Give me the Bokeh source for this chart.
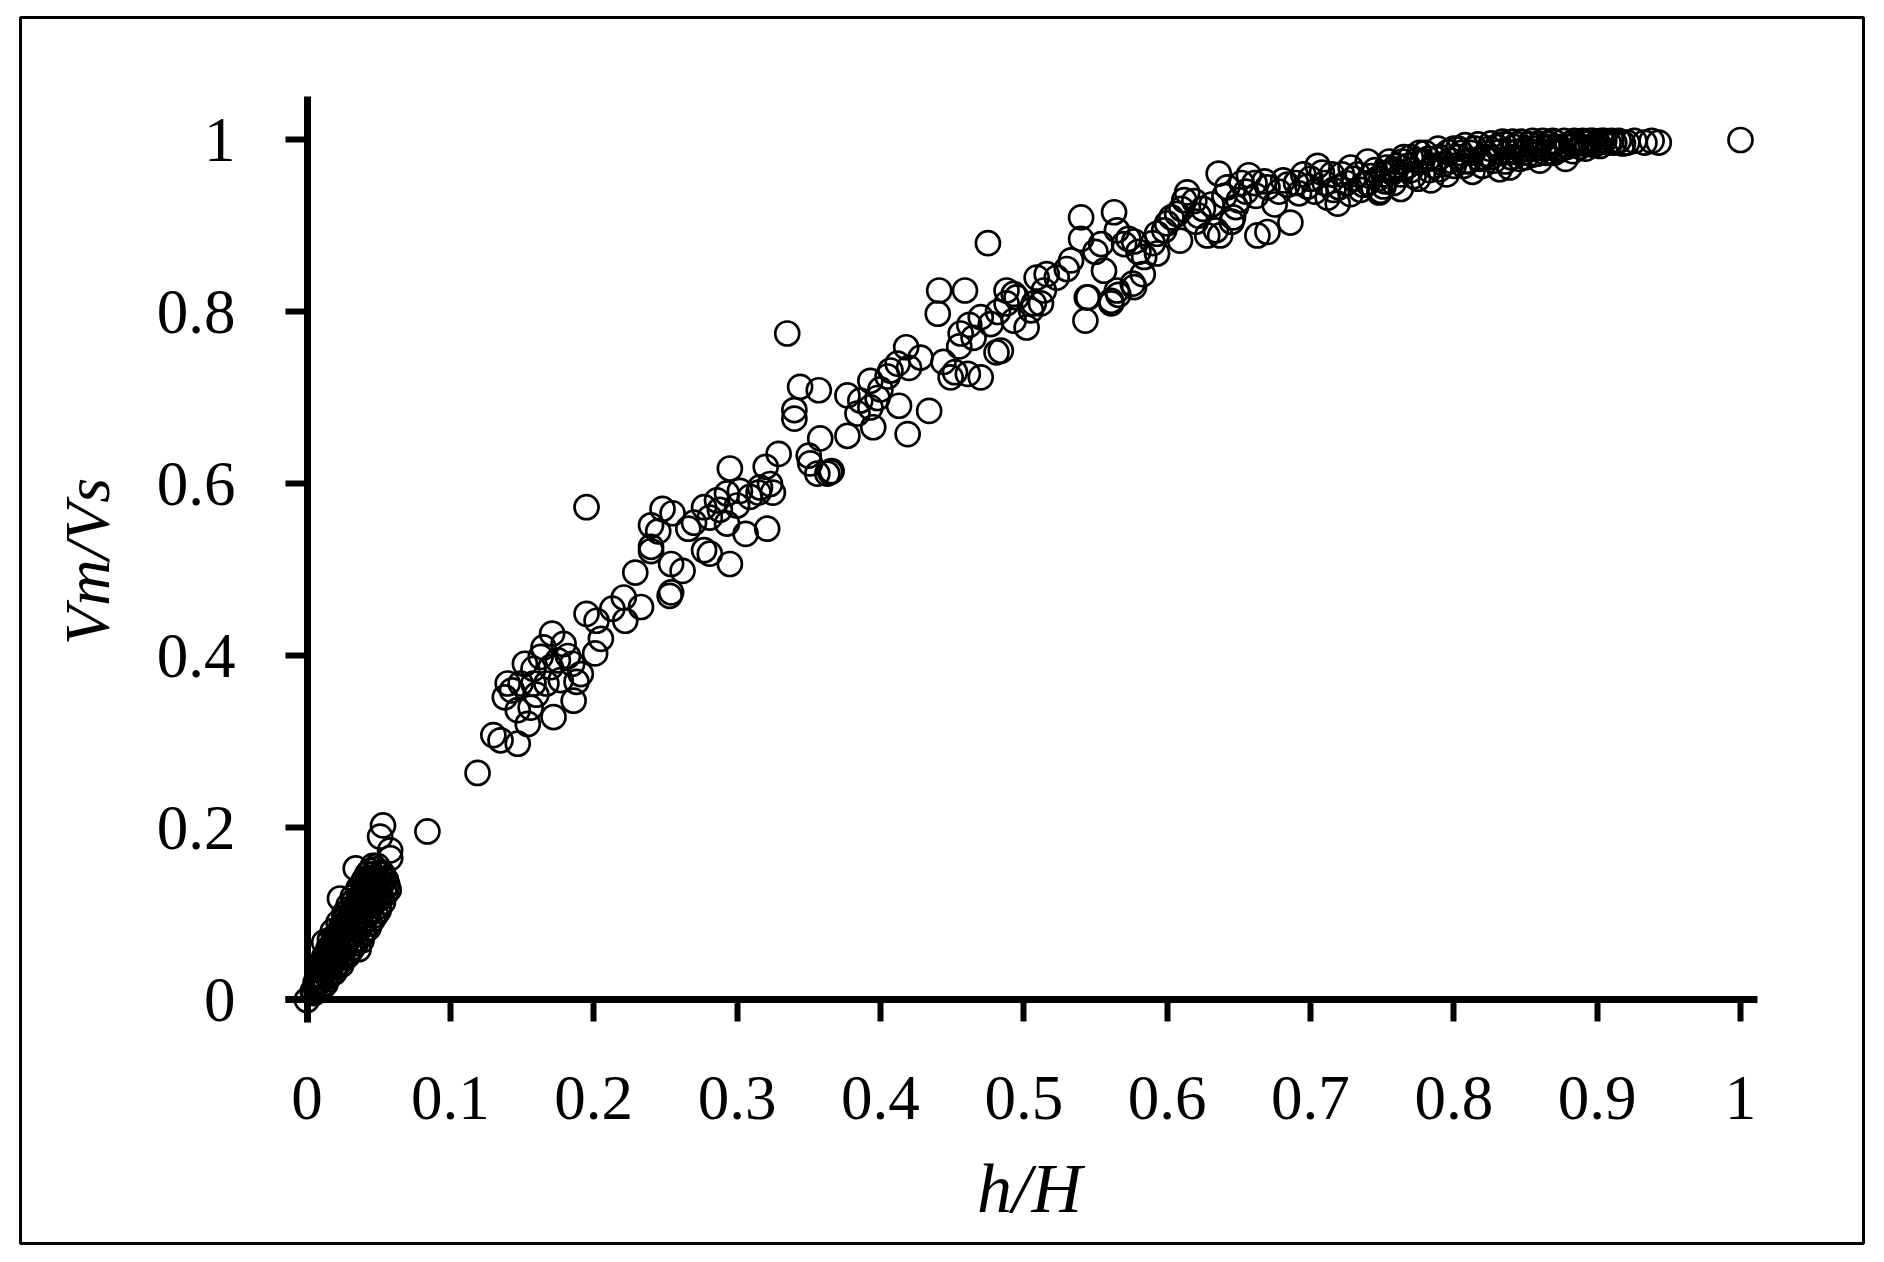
import math
from bokeh.plotting import figure
from bokeh.models import Range1d, FixedTicker, ColumnDataSource, LinearAxis
from bokeh.core.properties import value
from bokeh.embed import file_html
from bokeh.resources import INLINE

# ---- data ----
h_origin = [0.000, 0.011, 0.012, 0.023, 0.034, 0.053, 0.051, 0.058, 0.058, 0.084,
            0.004, 0.008, 0.006, 0.010, 0.013, 0.008, 0.012, 0.016, 0.010, 0.014,
            0.020, 0.024, 0.012, 0.018, 0.024, 0.028, 0.015, 0.020, 0.026, 0.032,
            0.036, 0.016, 0.022, 0.028, 0.034, 0.038, 0.018, 0.024, 0.030, 0.036,
            0.040, 0.022, 0.028, 0.034, 0.040, 0.044, 0.026, 0.031, 0.037, 0.043,
            0.048, 0.029, 0.035, 0.041, 0.046, 0.050, 0.032, 0.038, 0.044, 0.049,
            0.052, 0.036, 0.042, 0.047, 0.051, 0.054, 0.040, 0.045, 0.050, 0.054,
            0.044, 0.048, 0.052,
            0.006, 0.009, 0.011, 0.013, 0.016, 0.019, 0.021, 0.024, 0.027, 0.030,
            0.033, 0.036, 0.039, 0.042, 0.046, 0.014, 0.017, 0.021, 0.025, 0.029,
            0.033, 0.037, 0.041, 0.045, 0.048, 0.052, 0.053, 0.019, 0.023, 0.030,
            0.034, 0.039, 0.043, 0.046, 0.050, 0.053, 0.055, 0.056,
            0.005, 0.007, 0.009, 0.011, 0.013, 0.015, 0.017, 0.019, 0.021, 0.023,
            0.025, 0.027, 0.029, 0.031, 0.033, 0.035, 0.037, 0.039, 0.041, 0.043,
            0.045, 0.047, 0.049, 0.051, 0.049, 0.046, 0.043, 0.040, 0.038, 0.035,
            0.032, 0.029, 0.026, 0.023, 0.020, 0.017, 0.014, 0.011, 0.055, 0.057]
v_origin = [0.000, 0.015, 0.067, 0.118, 0.153, 0.203, 0.190, 0.174, 0.165, 0.196,
            0.010, 0.012, 0.020, 0.022, 0.019, 0.030, 0.031, 0.028, 0.040, 0.042,
            0.039, 0.041, 0.050, 0.052, 0.049, 0.051, 0.060, 0.062, 0.058, 0.061,
            0.059, 0.070, 0.072, 0.068, 0.071, 0.069, 0.080, 0.082, 0.078, 0.081,
            0.079, 0.090, 0.092, 0.088, 0.091, 0.089, 0.100, 0.102, 0.098, 0.101,
            0.099, 0.110, 0.112, 0.108, 0.111, 0.109, 0.120, 0.122, 0.118, 0.121,
            0.119, 0.130, 0.132, 0.128, 0.131, 0.129, 0.140, 0.142, 0.138, 0.141,
            0.150, 0.152, 0.148,
            0.015, 0.025, 0.035, 0.045, 0.055, 0.065, 0.075, 0.086, 0.096, 0.106,
            0.116, 0.126, 0.136, 0.146, 0.156, 0.035, 0.045, 0.055, 0.066, 0.076,
            0.086, 0.096, 0.106, 0.116, 0.126, 0.136, 0.146, 0.032, 0.044, 0.056,
            0.066, 0.076, 0.084, 0.094, 0.104, 0.114, 0.124, 0.134,
            0.008, 0.018, 0.028, 0.038, 0.048, 0.052, 0.062, 0.072, 0.068, 0.078,
            0.088, 0.084, 0.094, 0.098, 0.106, 0.104, 0.114, 0.118, 0.124, 0.122,
            0.134, 0.138, 0.142, 0.146, 0.156, 0.146, 0.138, 0.128, 0.108, 0.092,
            0.082, 0.072, 0.062, 0.056, 0.048, 0.040, 0.028, 0.018, 0.140, 0.128]

h_low = [0.119, 0.130, 0.135, 0.147, 0.140, 0.138, 0.149, 0.158, 0.167, 0.177,
         0.186, 0.172, 0.156, 0.147, 0.154, 0.152, 0.163, 0.170, 0.171, 0.179,
         0.185, 0.191, 0.195, 0.202, 0.205, 0.201, 0.195, 0.143, 0.160, 0.175,
         0.182, 0.165, 0.188, 0.158]
v_low = [0.264, 0.308, 0.302, 0.298, 0.368, 0.352, 0.368, 0.368, 0.368, 0.372,
         0.348, 0.329, 0.340, 0.337, 0.321, 0.391, 0.399, 0.387, 0.426, 0.414,
         0.391, 0.379, 0.449, 0.441, 0.420, 0.403, 0.573, 0.360, 0.355, 0.395,
         0.400, 0.410, 0.370, 0.385]

h_mid = [0.221, 0.233, 0.222, 0.229, 0.240, 0.240, 0.254, 0.262, 0.254, 0.253,
         0.277, 0.281, 0.295, 0.240, 0.248, 0.255, 0.266, 0.277, 0.286, 0.293,
         0.302, 0.309, 0.316, 0.323, 0.321, 0.306, 0.293, 0.281, 0.295, 0.320,
         0.329, 0.213, 0.245, 0.270, 0.300, 0.315, 0.325, 0.288]
v_mid = [0.468, 0.457, 0.441, 0.497, 0.527, 0.522, 0.507, 0.499, 0.474, 0.470,
         0.523, 0.519, 0.507, 0.552, 0.571, 0.566, 0.548, 0.573, 0.581, 0.589,
         0.592, 0.585, 0.596, 0.600, 0.548, 0.542, 0.554, 0.561, 0.618, 0.620,
         0.635, 0.455, 0.545, 0.555, 0.575, 0.590, 0.590, 0.570]

h_up = [0.356, 0.363, 0.366, 0.351, 0.335, 0.344, 0.357, 0.340, 0.340, 0.377,
        0.358, 0.350, 0.365, 0.377, 0.393, 0.386, 0.393, 0.384, 0.395, 0.407,
        0.412, 0.418, 0.413, 0.419, 0.434, 0.428, 0.444, 0.449, 0.461, 0.470,
        0.481, 0.456, 0.470, 0.477, 0.440, 0.441, 0.459, 0.488, 0.495, 0.475,
        0.400, 0.405, 0.455, 0.465, 0.452, 0.420, 0.398, 0.462, 0.482]
v_up = [0.612, 0.612, 0.615, 0.624, 0.775, 0.713, 0.709, 0.686, 0.676, 0.703,
        0.653, 0.633, 0.614, 0.656, 0.720, 0.697, 0.689, 0.682, 0.666, 0.732,
        0.740, 0.759, 0.691, 0.658, 0.685, 0.747, 0.742, 0.724, 0.728, 0.724,
        0.753, 0.775, 0.794, 0.786, 0.798, 0.825, 0.825, 0.825, 0.817, 0.880,
        0.710, 0.725, 0.760, 0.770, 0.730, 0.735, 0.700, 0.785, 0.800]

h_knee = [0.502, 0.505, 0.512, 0.544, 0.543, 0.561, 0.566, 0.577, 0.540, 0.563,
          0.593, 0.609, 0.593, 0.583, 0.576, 0.565, 0.561, 0.545, 0.556, 0.554,
          0.540, 0.570, 0.577, 0.584, 0.573, 0.533, 0.516, 0.509, 0.523, 0.514,
          0.493, 0.493, 0.484, 0.488, 0.507, 0.600, 0.607, 0.550, 0.565, 0.580,
          0.590, 0.530]
v_knee = [0.782, 0.802, 0.810, 0.817, 0.790, 0.813, 0.820, 0.829, 0.910, 0.916,
          0.891, 0.883, 0.868, 0.844, 0.833, 0.825, 0.810, 0.817, 0.848, 0.879,
          0.885, 0.879, 0.882, 0.864, 0.885, 0.860, 0.844, 0.840, 0.840, 0.825,
          0.821, 0.790, 0.755, 0.810, 0.810, 0.903, 0.914, 0.870, 0.895, 0.870,
          0.880, 0.850]

h_shoulder = [0.614, 0.619, 0.636, 0.657, 0.661, 0.681, 0.705, 0.712, 0.719, 0.686,
              0.670, 0.663, 0.637, 0.628, 0.634, 0.646, 0.650, 0.703, 0.710, 0.625,
              0.640, 0.655, 0.670, 0.690, 0.695, 0.675, 0.620, 0.610, 0.700, 0.715,
              0.720, 0.598, 0.603, 0.612, 0.622, 0.631, 0.642, 0.648, 0.652, 0.662,
              0.668, 0.678, 0.684, 0.692, 0.698, 0.645]
v_shoulder = [0.939, 0.929, 0.961, 0.959, 0.950, 0.953, 0.970, 0.933, 0.926, 0.904,
              0.893, 0.889, 0.889, 0.889, 0.895, 0.910, 0.930, 0.940, 0.950, 0.920,
              0.935, 0.940, 0.945, 0.950, 0.960, 0.925, 0.905, 0.920, 0.955, 0.960,
              0.945, 0.895, 0.910, 0.930, 0.912, 0.925, 0.945, 0.922, 0.950, 0.935,
              0.952, 0.940, 0.948, 0.938, 0.946, 0.905]

h_top = [0.728, 0.749, 0.740, 0.758, 0.748, 0.763, 0.784, 0.751, 0.735, 0.813,
         0.832, 0.839, 0.860, 0.878, 0.790, 0.728, 0.740, 0.751, 0.763, 0.774,
         0.786, 0.798, 0.809, 0.821, 0.832, 0.844, 0.856, 0.867, 0.879, 0.891,
         0.900, 0.912, 0.921, 0.933, 0.943, 1.000, 0.745, 0.755, 0.765, 0.770,
         0.780, 0.790, 0.800, 0.805, 0.815, 0.825, 0.835, 0.845, 0.850, 0.860,
         0.870, 0.875, 0.885, 0.895, 0.905, 0.915, 0.810, 0.820, 0.850, 0.870,
         0.730, 0.760, 0.775, 0.795, 0.800, 0.840,
         0.742, 0.752, 0.757, 0.768, 0.772, 0.778, 0.783, 0.788, 0.793, 0.803,
         0.807, 0.812, 0.818, 0.823, 0.828, 0.830, 0.838, 0.842, 0.848, 0.853,
         0.858, 0.863, 0.866, 0.872, 0.882, 0.888, 0.893, 0.898, 0.908, 0.918,
         0.926, 0.938, 0.733, 0.737, 0.725, 0.722, 0.716, 0.708,
         0.803, 0.808, 0.817, 0.826, 0.834, 0.841, 0.847, 0.855, 0.862, 0.869,
         0.877, 0.884, 0.890, 0.897, 0.903, 0.910, 0.796, 0.789, 0.782, 0.776,
         0.770, 0.764, 0.758, 0.753, 0.747, 0.826, 0.836, 0.846, 0.855, 0.864,
         0.873, 0.883, 0.892, 0.902]
v_top = [0.968, 0.941, 0.975, 0.950, 0.939, 0.943, 0.953, 0.946, 0.942, 0.963,
         0.966, 0.968, 0.976, 0.978, 0.966, 0.937, 0.950, 0.960, 0.960, 0.976,
         0.970, 0.976, 0.976, 0.980, 0.986, 0.986, 0.990, 0.992, 0.992, 0.997,
         0.997, 0.997, 0.997, 0.997, 0.997, 1.000, 0.965, 0.975, 0.980, 0.965,
         0.985, 0.980, 0.990, 0.985, 0.990, 0.990, 0.995, 0.995, 0.990, 0.995,
         0.998, 0.990, 0.995, 0.999, 0.999, 0.999, 0.975, 0.970, 0.980, 0.985,
         0.955, 0.970, 0.955, 0.960, 0.970, 0.980,
         0.958, 0.952, 0.962, 0.970, 0.958, 0.975, 0.965, 0.978, 0.972, 0.980,
         0.970, 0.985, 0.978, 0.984, 0.976, 0.992, 0.986, 0.992, 0.985, 0.995,
         0.984, 0.990, 0.996, 0.992, 0.996, 0.992, 0.996, 0.994, 0.997, 0.996,
         0.999, 0.999, 0.960, 0.948, 0.950, 0.960, 0.942, 0.962,
         0.990, 0.994, 0.995, 0.996, 0.998, 0.998, 0.998, 0.999, 0.999, 0.999,
         0.999, 0.999, 0.999, 0.999, 0.999, 0.999, 0.986, 0.990, 0.978, 0.985,
         0.980, 0.975, 0.966, 0.968, 0.955, 0.980, 0.975, 0.978, 0.983, 0.985,
         0.988, 0.987, 0.990, 0.993]

x_ticks = [0, 0.1, 0.2, 0.3, 0.4, 0.5, 0.6, 0.7, 0.8, 0.9, 1]
x_tick_labels = ["0", "0.1", "0.2", "0.3", "0.4", "0.5", "0.6", "0.7", "0.8", "0.9", "1"]
y_ticks = [0, 0.2, 0.4, 0.6, 0.8, 1]
y_tick_labels = ["0", "0.2", "0.4", "0.6", "0.8", "1"]
x_title = "h/H"
y_title = "Vm/Vs"

h_all = h_origin + h_low + h_mid + h_up + h_knee + h_shoulder + h_top
v_all = v_origin + v_low + v_mid + v_up + v_knee + v_shoulder + v_top
src = ColumnDataSource(data=dict(h=h_all, v=v_all))

# ---- layout: the frame is the boxed area; axes run through the origin ----
W, H = 1876, 1254
BL, BR, BT, BB = 20, 13, 17, 11
X0, X1 = -0.19986, 1.08580
Y0, Y1 = -0.28314, 1.14244
PXX = (W - BL - BR) / (X1 - X0)   # pixels per data unit along x
PXY = (H - BT - BB) / (Y1 - Y0)   # pixels per data unit along y

FONT = "Liberation Serif"

p = figure(width=W, height=H, output_backend="svg", toolbar_location=None,
           x_range=Range1d(X0, X1), y_range=Range1d(Y0, Y1),
           x_axis_location=None, y_axis_location=None,
           min_border_left=BL, min_border_right=BR, min_border_top=BT,
           min_border_bottom=BB)
p.grid.visible = False
p.outline_line_color = "black"
p.outline_line_width = 3
p.background_fill_color = "white"
p.border_fill_color = "white"

p.scatter(x="h", y="v", source=src, marker="circle", size=24,
          fill_color=None, line_color="black", line_width=2.7)

# axis rules + ticks through the origin (ticks pointing away from the data)
xrule = LinearAxis(ticker=FixedTicker(ticks=x_ticks), fixed_location=0,
                   bounds=(-0.015, 1.012))
yrule = LinearAxis(ticker=FixedTicker(ticks=y_ticks), fixed_location=0,
                   bounds=(-0.026, 1.05))
for ax in (xrule, yrule):
    ax.axis_line_width = 7
    ax.axis_line_color = "black"
    ax.major_tick_line_width = 6
    ax.major_tick_line_color = "black"
    ax.major_tick_out = 0
    ax.major_tick_in = 22
    ax.minor_tick_line_color = None
    ax.minor_tick_out = 0
    ax.minor_tick_in = 0
    ax.major_label_text_font_size = "1px"
    ax.major_label_text_alpha = 0
    ax.major_label_standoff = 0
p.add_layout(xrule, "above")
p.add_layout(yrule, "right")

# tick labels
xl_src = ColumnDataSource(data=dict(x=x_ticks, y=[-98.0 / PXY] * len(x_ticks),
                                    t=x_tick_labels))
yl_src = ColumnDataSource(data=dict(x=[-71.5 / PXX] * len(y_ticks),
                                    y=list(y_ticks),
                                    t=y_tick_labels))
p.text(x="x", y="y", text="t", source=xl_src, text_font=value(FONT),
       text_font_size="63px", text_align="center", text_baseline="alphabetic",
       text_color="black")
p.text(x="x", y="y", text="t", source=yl_src, text_font=value(FONT),
       text_font_size="63px", text_align="right", text_baseline="alphabetic",
       text_color="black")

# axis titles
p.text(x=[0.504], y=[-188.5 / PXY], text=[x_title], text_font=value(FONT),
       text_font_style="italic", text_font_size="70px", text_align="center",
       text_baseline="alphabetic", text_color="black")
p.text(x=[-220.0 / PXX], y=[0.510], text=[y_title], text_font=value(FONT),
       text_font_style="italic", text_font_size="64px", text_align="center",
       text_baseline="alphabetic", text_color="black", angle=math.pi / 2)

open("out.html", "w").write(file_html(p, INLINE))
